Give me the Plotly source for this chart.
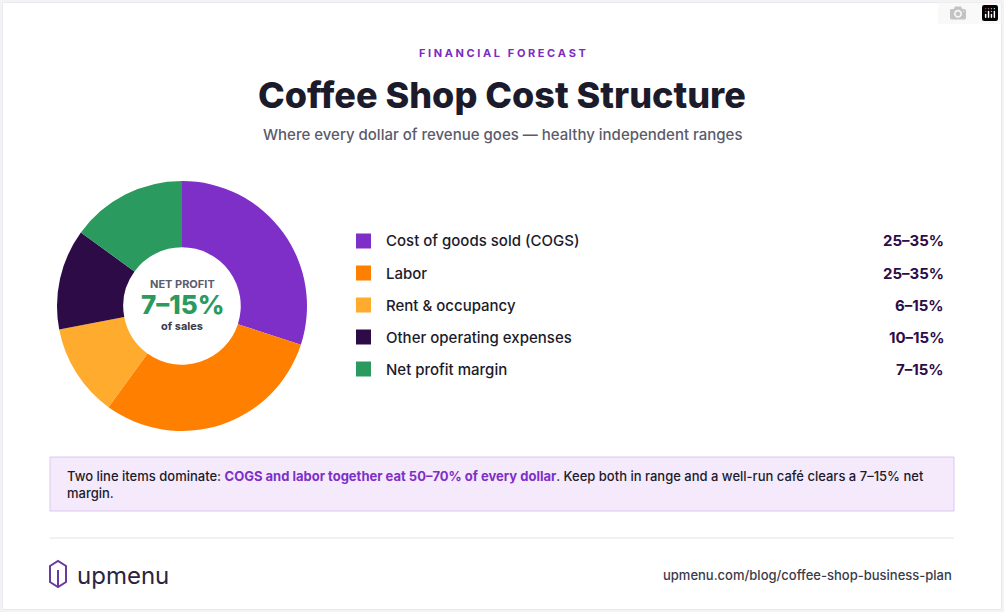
import plotly.graph_objects as go

W, H = 1004, 612

labels = ["Cost of goods sold (COGS)", "Labor", "Rent & occupancy",
          "Other operating expenses", "Net profit margin"]
shares = [30, 30, 12, 13, 15]
ranges = ["25–35%", "25–35%", "6–15%", "10–15%", "7–15%"]
colors = ["#7e2fc8", "#ff7f00", "#ffab2e", "#2d0b47", "#2a9a5e"]

FONT = "Inter"
DARK = "#1c1b2b"


def px(x):
    return x / W


def py(y):
    return 1 - y / H


fig = go.Figure()
fig.add_trace(go.Pie(
    values=shares, labels=labels, hole=0.47, sort=False, direction="clockwise",
    rotation=0, marker=dict(colors=colors, line=dict(color="white", width=0)),
    textinfo="none", hoverinfo="label+percent", showlegend=False,
    domain=dict(x=[px(57), px(307)], y=[py(431), py(181)]),
))

ann = []
shapes = []

# card
shapes.append(dict(type="rect", xref="paper", yref="paper", x0=px(3), x1=px(1001),
                   y0=py(609), y1=py(3), line=dict(color="#dedde3", width=1),
                   fillcolor="rgba(0,0,0,0)", layer="below"))

ann.append(dict(x=0.5, y=py(53), text="<b>F I N A N C I A L   F O R E C A S T</b>",
                font=dict(size=11, color="#7b2cbf", family=FONT), showarrow=False))
ann.append(dict(x=0.5, y=py(95), text="Coffee Shop Cost Structure",
                font=dict(size=36, color=DARK, family=FONT, weight=800), showarrow=False))
ann.append(dict(x=0.5, y=py(134), text="Where every dollar of revenue goes — healthy independent ranges",
                font=dict(size=15, color="#5b5b6b", family=FONT, weight=500), showarrow=False))

# donut centre
cx = px(182)
ann.append(dict(x=cx, y=py(284), text="<b>NET PROFIT</b>",
                font=dict(size=11, color="#5b5b6b", family=FONT), showarrow=False))
ann.append(dict(x=cx, y=py(304), text="7–15%",
                font=dict(size=26, color="#2a9a5e", family=FONT, weight=800), showarrow=False))
ann.append(dict(x=cx, y=py(326), text="<b>of sales</b>",
                font=dict(size=11, color="#3a3a4a", family=FONT), showarrow=False))

# legend rows
for i, (lab, rng, col) in enumerate(zip(labels, ranges, colors)):
    y = 241 + 32 * i
    shapes.append(dict(type="rect", xref="paper", yref="paper",
                       x0=px(356), x1=px(371), y0=py(y + 7.5), y1=py(y - 7.5),
                       fillcolor=col, line=dict(width=0)))
    ann.append(dict(x=px(384), y=py(y), text=lab, xanchor="left",
                    font=dict(size=15, color=DARK, family=FONT, weight=500), showarrow=False))
    ann.append(dict(x=px(946), y=py(y), text="<b>" + rng + "</b>", xanchor="right",
                    font=dict(size=15, color="#2d0b47", family=FONT), showarrow=False))

# callout
shapes.append(dict(type="rect", xref="paper", yref="paper", x0=px(50), x1=px(954),
                   y0=py(511), y1=py(457), fillcolor="#f4eafc",
                   line=dict(color="#dcc6f0", width=1)))
ann.append(dict(x=px(65), y=py(484), xanchor="left", align="left",
                text="Two line items dominate: <b><span style='color:#7e2fc8'>COGS and labor together eat 50–70% of every dollar</span></b>. "
                     "Keep both in range and a well-run café clears a 7–15% net<br>margin.",
                font=dict(size=13, color=DARK, family=FONT, weight=500), showarrow=False))

# footer
shapes.append(dict(type="line", xref="paper", yref="paper", x0=px(50), x1=px(954),
                   y0=py(538), y1=py(538), line=dict(color="#e3e2e8", width=1)))
shapes.append(dict(type="path", xref="paper", yref="paper",
                   path=f"M {px(50)},{py(566)} L {px(58)},{py(561)} L {px(66)},{py(566)} "
                        f"L {px(66)},{py(582)} L {px(58)},{py(587)} L {px(50)},{py(582)} Z",
                   line=dict(color="#6a3aa0", width=2), fillcolor="rgba(0,0,0,0)"))
shapes.append(dict(type="line", xref="paper", yref="paper", x0=px(58), x1=px(58),
                   y0=py(570), y1=py(587), line=dict(color="#6a3aa0", width=2)))
ann.append(dict(x=px(75), y=py(575), xanchor="left", text="upmenu",
                font=dict(size=24, color="#2d2440", family=FONT), showarrow=False))
ann.append(dict(x=px(954), y=py(575), xanchor="right", text="upmenu.com/blog/coffee-shop-business-plan",
                font=dict(size=13, color="#3a3a4a", family=FONT, weight=500), showarrow=False))

for a in ann:
    a.setdefault("xref", "paper")
    a.setdefault("yref", "paper")
    a.setdefault("xanchor", "center")
    a.setdefault("yanchor", "middle")

fig.update_layout(width=W, height=H, margin=dict(l=0, r=0, t=0, b=0),
                  paper_bgcolor="#f3f3f5", plot_bgcolor="white",
                  annotations=ann, shapes=shapes)
# white card background
fig.add_shape(type="rect", xref="paper", yref="paper", x0=px(3), x1=px(1001),
              y0=py(609), y1=py(3), fillcolor="white", line=dict(width=0), layer="below")

fig.write_html("out.html",
               post_script="document.body.style.margin='0';document.body.style.overflow='hidden';")
